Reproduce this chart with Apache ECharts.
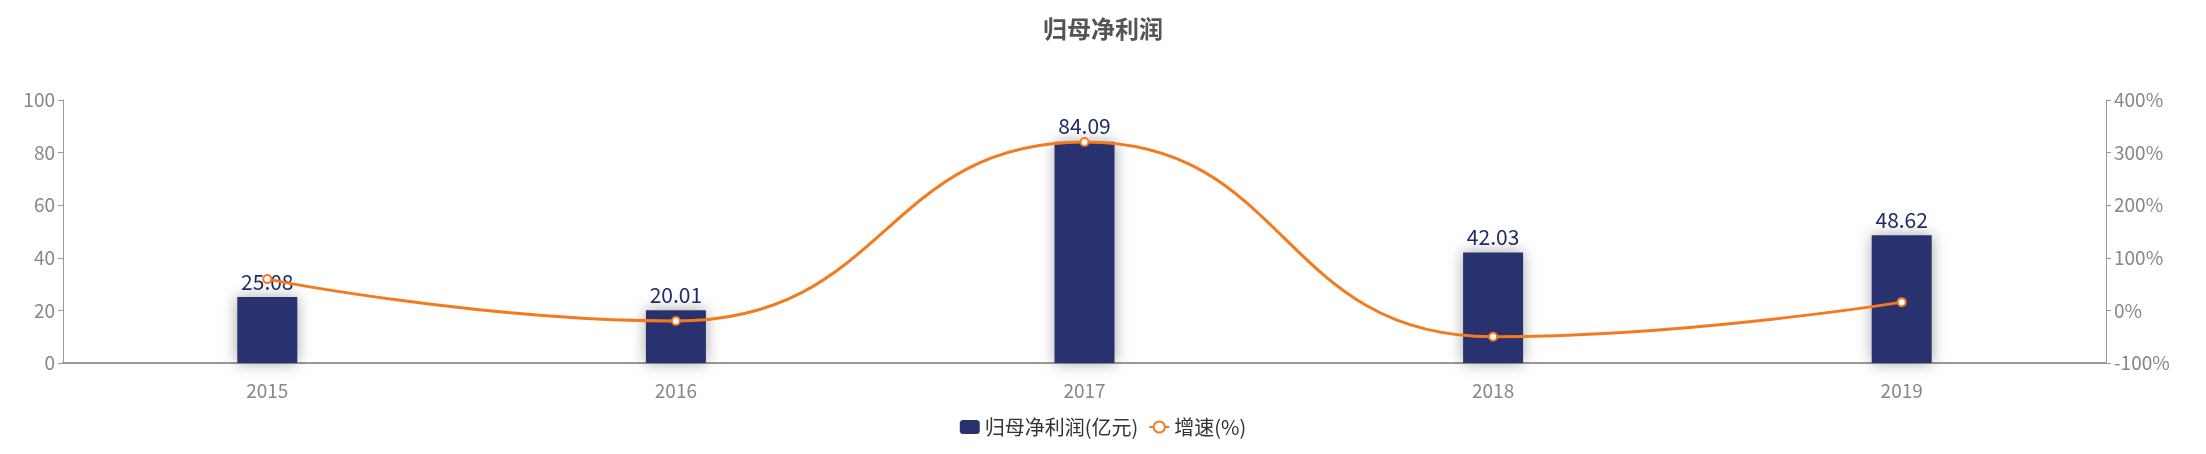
<!DOCTYPE html>
<html>
<head>
<meta charset="utf-8">
<script src="https://cdn.jsdelivr.net/npm/echarts@6/dist/echarts.min.js"></script>
<style>html,body{margin:0;padding:0;background:#fff}#main{width:2206px;height:454px}</style>
</head>
<body>
<div id="main"></div>
<script>
var years = ['2015', '2016', '2017', '2018', '2019'];
var profit = [25.08, 20.01, 84.09, 42.03, 48.62];
var growth = [59.5, -20.2, 320.2, -50.0, 15.7];

var chart = echarts.init(document.getElementById('main'));
var axisGray = '#999';
chart.setOption({
    textStyle: { fontFamily: 'Noto Sans CJK SC, sans-serif' },
    title: {
        text: '归母净利润', left: 'center', top: 12,
        textStyle: { fontSize: 24, fontWeight: 'bold', color: '#555' }
    },
    legend: {
        bottom: 12, itemGap: 10, itemWidth: 20, itemHeight: 14,
        textStyle: { fontSize: 20, color: '#333' },
        data: ['归母净利润(亿元)', '增速(%)']
    },
    grid: { left: 63, right: 100, top: 100, bottom: 91 },
    xAxis: {
        type: 'category', data: years,
        axisLine: { lineStyle: { color: axisGray, width: 2 } },
        axisTick: { length: 12, lineStyle: { color: axisGray } },
        axisLabel: { fontSize: 19, color: '#888', margin: 18 }
    },
    yAxis: [{
        type: 'value', min: 0, max: 100, interval: 20,
        splitLine: { show: false },
        axisLine: { show: true, lineStyle: { color: axisGray } },
        axisTick: { show: true, lineStyle: { color: axisGray } },
        axisLabel: { fontSize: 19, color: '#888' }
    }, {
        type: 'value', min: -100, max: 400, interval: 100,
        splitLine: { show: false },
        axisLine: { show: true, lineStyle: { color: axisGray } },
        axisTick: { show: true, lineStyle: { color: axisGray } },
        axisLabel: { fontSize: 19, color: '#888', formatter: '{value}%' }
    }],
    series: [{
        name: '归母净利润(亿元)', type: 'bar', data: profit, barWidth: 60,
        itemStyle: { color: '#27326e', shadowColor: 'rgba(0,0,0,0.35)', shadowBlur: 14 },
        label: { show: true, position: 'top', fontSize: 21, color: '#1f2a66' }
    }, {
        name: '增速(%)', type: 'line', yAxisIndex: 1, data: growth, smooth: true,
        symbol: 'circle', symbolSize: 8,
        lineStyle: { color: '#f47a20', width: 3 },
        itemStyle: { color: '#fff', borderColor: '#f47a20', borderWidth: 2 }
    }]
});
</script>
</body>
</html>
